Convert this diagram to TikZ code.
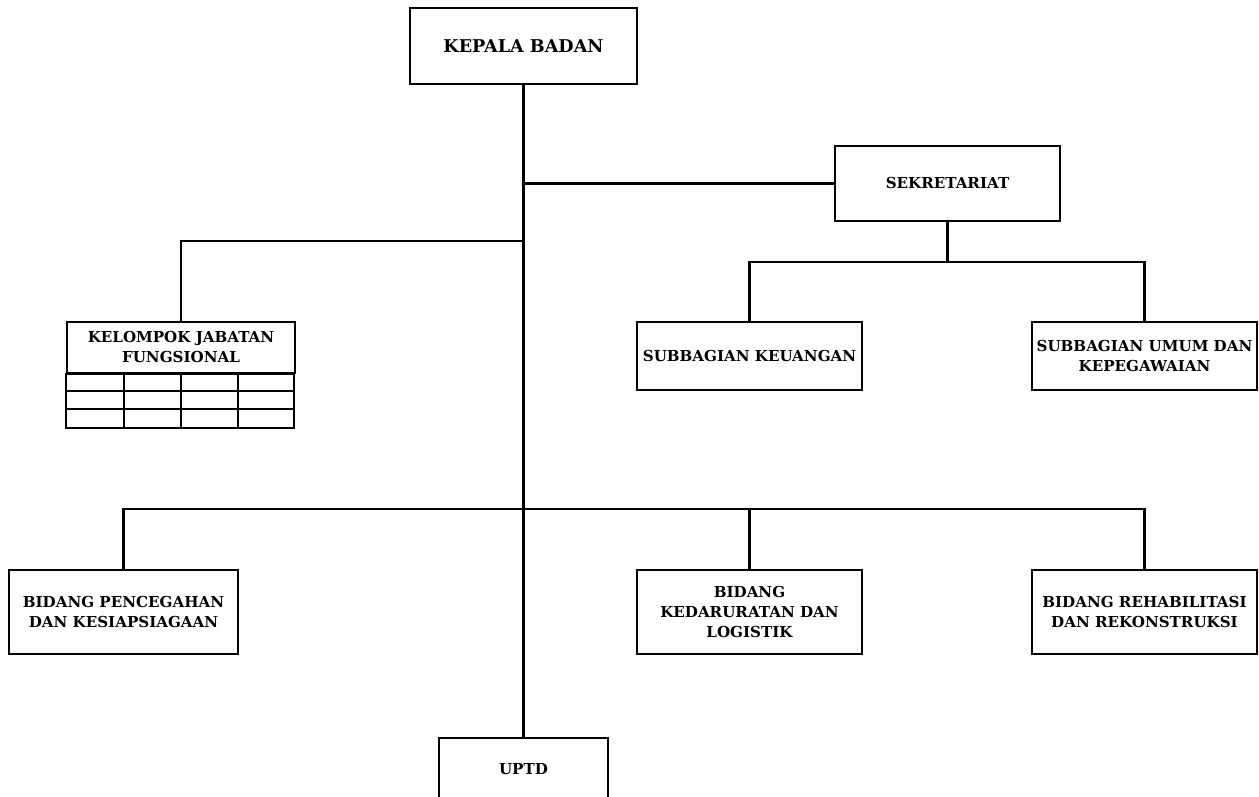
\documentclass[tikz,border=0pt]{standalone}
\usepackage{fontspec}
\setmainfont{DejaVu Serif}
\begin{document}
\begin{tikzpicture}[x=1pt,y=-1pt,
  unit/.style={draw,line width=2.2pt,minimum width=226pt,align=center,inner sep=0pt,
    font=\bfseries\fontsize{15.1}{20}\selectfont},
  conn/.style={line width=2.2pt}]
\useasboundingbox (0,0) rectangle (1259,797);
\clip (0,0) rectangle (1259,797);
% nodes
\node[unit,minimum width=227pt,minimum height=76pt,font=\bfseries\fontsize{17.6}{20}\selectfont] (kepala) at (523.5,46) {KEPALA BADAN};
\node[unit,minimum width=225pt,minimum height=75pt] (sek) at (947.5,183.5) {SEKRETARIAT};
\node[unit,minimum width=228pt,minimum height=51pt] (kjf) at (181,347.5) {KELOMPOK JABATAN\\FUNGSIONAL};
\node[unit,minimum width=225pt,minimum height=68pt] (keu) at (749.5,356) {SUBBAGIAN KEUANGAN};
\node[unit,minimum width=225pt,minimum height=68pt] (umum) at (1144.5,356) {SUBBAGIAN UMUM DAN\\KEPEGAWAIAN};
\node[unit,minimum width=229pt,minimum height=84pt] (pen) at (123.5,612) {BIDANG PENCEGAHAN\\DAN KESIAPSIAGAAN};
\node[unit,minimum width=225pt,minimum height=84pt] (dar) at (749.5,612) {BIDANG\\KEDARURATAN DAN\\LOGISTIK};
\node[unit,minimum width=225pt,minimum height=84pt] (reh) at (1144.5,612) {BIDANG REHABILITASI\\DAN REKONSTRUKSI};
\node[unit,minimum width=169pt,minimum height=70pt,anchor=north] (uptd) at (523.5,737) {};
\node[font=\bfseries\fontsize{15.1}{20}\selectfont] (uptdt) at (523.5,769) {UPTD};
% table under KJF
\draw[conn] (kjf.south west) rectangle ++(228,54);
\draw[conn] (67,391) -- (295,391) (67,409) -- (295,409);
\draw[conn] (124,373) -- (124,427) (181,373) -- (181,427) (238,373) -- (238,427);
% connectors
\coordinate (jsek) at (kepala.south |- sek.west);
\coordinate (jkjf) at (kepala.south |- 0,241);
\coordinate (jbid) at (kepala.south |- 0,509);
\draw[conn] (kepala.south) -- (uptd.north);
\draw[conn] (jsek) -- (sek.west);
\draw[conn] (jkjf) -| (kjf.north);
\coordinate (ssub) at (sek.south |- 0,262);
\draw[conn] (sek.south) -- (ssub);
\draw[conn] (keu.north) |- (umum.north |- ssub) -- (umum.north);
\draw[conn] (pen.north) |- (reh.north |- jbid) -- (reh.north);
\draw[conn] (dar.north) -- (dar.north |- jbid);
\end{tikzpicture}
\end{document}
